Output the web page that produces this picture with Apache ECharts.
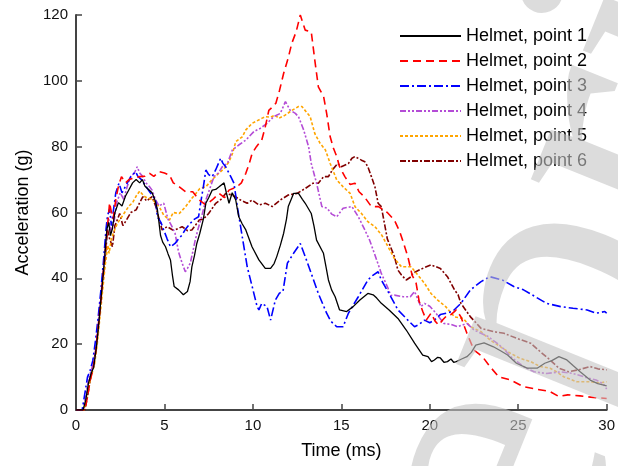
<!DOCTYPE html>
<html>
<head>
<meta charset="utf-8">
<script src="https://cdn.jsdelivr.net/npm/echarts@6/dist/echarts.min.js"></script>
<style>
  html, body { margin: 0; padding: 0; background: #fff; }
  #chart { width: 618px; height: 466px; }
</style>
</head>
<body>
<div id="chart"></div>
<script>
// Acceleration traces measured at six helmet points, [time (ms), acceleration (g)]
const seriesNames = ['Helmet, point 1', 'Helmet, point 2', 'Helmet, point 3',
                     'Helmet, point 4', 'Helmet, point 5', 'Helmet, point 6'];

const point1 = [[0,0],[0.4,0],[0.55,3],[0.7,8],[0.85,11],[1.0,13],[1.15,19],[1.3,27],[1.45,36],[1.6,45],[1.75,55],[1.85,57],[1.95,53],[2.05,55],[2.2,60],[2.4,63],[2.6,62],[2.8,65],[3.0,67],[3.2,69],[3.4,70],[3.6,69],[3.75,70],[3.9,68],[4.1,67],[4.3,66],[4.45,64],[4.6,61],[4.78,53],[4.9,51],[5.06,49.6],[5.2,47.5],[5.34,45.6],[5.45,41],[5.55,37.5],[5.8,36.5],[6.07,35],[6.3,36],[6.45,39],[6.55,43.5],[6.7,47],[6.83,50.6],[7.0,53.7],[7.2,58],[7.34,62.8],[7.5,64.5],[7.7,66.8],[7.9,67],[8.09,67.8],[8.37,69],[8.5,66],[8.65,62.8],[8.83,66],[9.03,63.8],[9.2,58.7],[9.4,56.5],[9.6,54.7],[9.95,49.6],[10.34,45.6],[10.7,43],[11.0,43],[11.2,44.5],[11.35,46.6],[11.55,50],[11.74,53.7],[11.9,58],[12.0,61.8],[12.3,65.8],[12.58,65.8],[12.8,64],[12.96,62.8],[13.3,59.7],[13.45,56],[13.6,51.6],[13.99,47.6],[14.15,43],[14.27,39.5],[14.45,36.5],[14.65,34.4],[14.9,30.4],[15.3,29.9],[15.67,31.4],[16.05,33.4],[16.5,35.4],[16.8,35],[17.0,34],[17.26,32.4],[17.7,30.4],[18.2,27.8],[18.67,24.3],[19.14,20.3],[19.6,16.7],[19.9,16.2],[20.1,14.7],[20.26,15.2],[20.45,16],[20.6,15.8],[20.8,14.5],[21.0,14.7],[21.2,15.5],[21.35,14.5],[21.5,14.7],[21.8,15.5],[22.1,16.2],[22.35,17.5],[22.6,19.7],[23.07,20.4],[23.6,19.2],[24.0,18],[24.4,16.7],[24.9,14.2],[25.5,12.7],[26.07,12.7],[26.5,14.2],[26.9,15],[27.3,16.2],[27.75,15.2],[28.1,13.5],[28.5,11.6],[29.07,9.1],[29.5,8],[30,7.3]];

const point2 = [[0,0],[0.5,0],[0.65,4],[0.8,9],[0.95,12],[1.1,17],[1.25,25],[1.4,33],[1.55,42],[1.7,51],[1.8,57],[1.9,63],[2.0,60],[2.1,58],[2.25,64],[2.4,68],[2.57,70.9],[2.8,69],[3.0,70],[3.3,70.5],[3.6,70.9],[3.9,71],[4.16,71.9],[4.4,71],[4.7,72.4],[5.0,72],[5.28,71.4],[5.5,69],[5.84,67.8],[6.2,66.3],[6.6,66.3],[6.97,63.8],[7.34,62.3],[7.7,63.8],[8.09,65.8],[8.4,64.5],[8.65,66.8],[9.1,67.8],[9.35,69],[9.6,71.9],[9.8,75],[9.96,78],[10.2,80],[10.5,82],[10.7,86],[10.9,91],[11.1,92],[11.3,93.2],[11.5,97],[11.74,102.3],[12.0,107],[12.2,111.4],[12.45,115],[12.68,120],[12.96,115.4],[13.3,114.9],[13.5,106.3],[13.7,98.2],[14.0,95.2],[14.17,90.1],[14.37,83],[14.55,79.6],[14.74,77],[14.9,73.9],[15.2,70.9],[15.5,68.5],[15.77,68.9],[16.0,66.3],[16.3,64.8],[16.7,61.8],[17.1,61.8],[17.6,60],[18.0,57.7],[18.3,54.2],[18.5,51],[18.76,46.6],[19.0,41],[19.23,38.5],[19.4,33],[19.6,30],[19.8,27.3],[20.07,29.4],[20.3,27],[20.5,25.8],[20.75,27.5],[21.0,28.9],[21.2,29],[21.5,30.4],[21.76,28.3],[22.1,23.3],[22.5,18.2],[22.98,16.2],[23.4,13.2],[23.9,10.1],[24.57,9.1],[25.3,7.1],[26.07,6.3],[26.8,5.6],[27.3,4.1],[27.8,4.6],[28.5,4.3],[29.25,3.8],[30,3.5]];

const point3 = [[0,0],[0.35,0],[0.5,5],[0.65,10],[0.8,12],[0.95,15],[1.1,21],[1.25,28],[1.4,36],[1.55,45],[1.7,55],[1.78,59],[1.9,61],[2.0,56],[2.1,60],[2.25,66],[2.43,68.9],[2.6,66],[2.8,68],[3.1,70.9],[3.37,72.4],[3.5,71],[3.7,70],[3.97,67.8],[4.2,66],[4.5,63.8],[4.6,58.7],[4.8,57],[4.96,54.7],[5.15,52],[5.34,49.6],[5.6,50.6],[5.8,52],[6.0,53.2],[6.2,55],[6.46,56.7],[6.7,58],[6.93,58.7],[7.05,63],[7.2,67.8],[7.34,72.9],[7.5,71.5],[7.7,70.9],[7.9,73],[8.18,76.5],[8.3,75],[8.46,73.9],[8.75,70.9],[8.93,68.9],[9.12,61.8],[9.4,52.6],[9.68,43.5],[9.96,37.5],[10.24,31.4],[10.34,30.4],[10.5,32.4],[10.8,31.4],[11.0,27.3],[11.27,33.4],[11.5,35.5],[11.7,36],[11.95,44.6],[12.3,47.6],[12.68,50.6],[12.96,46.6],[13.3,41.5],[13.7,35.4],[14.17,29.4],[14.4,27],[14.74,25.3],[15.1,25.3],[15.4,29.4],[15.96,34.4],[16.5,39.5],[16.8,41],[17.08,42],[17.26,39.5],[17.7,35.4],[18.2,30.4],[18.76,27.3],[19.14,25.3],[19.4,26],[19.7,27.3],[20.0,26.5],[20.26,27.3],[20.6,29],[21.0,29.5],[21.3,30],[21.76,32.4],[22.3,36.5],[22.9,39],[23.4,40.5],[24.1,39.5],[24.75,37.5],[25.3,36.5],[25.97,34.4],[26.6,32.4],[27.4,31.4],[28.1,30.9],[28.9,30.4],[29.4,29.4],[29.9,29.9],[30,29.4]];

const point4 = [[0,0],[0.4,0],[0.55,4],[0.7,9],[0.85,12],[1.0,14],[1.15,20],[1.3,28],[1.45,37],[1.6,46],[1.75,55],[1.85,58],[2.0,54],[2.15,57],[2.3,63],[2.5,66],[2.7,64],[2.9,68],[3.1,71],[3.3,72],[3.46,73.9],[3.6,72],[3.78,70.9],[3.95,69],[4.16,67.8],[4.3,66.8],[4.5,63.8],[4.7,62],[4.96,62.8],[5.2,58],[5.4,56],[5.6,53.7],[5.8,48],[6.0,44.6],[6.18,42],[6.3,43],[6.46,44.6],[6.6,48],[6.74,51.6],[6.9,55],[7.1,58.7],[7.34,63.8],[7.55,67],[7.8,70.9],[8.05,72],[8.27,73.9],[8.56,74.9],[8.84,79],[9.2,80.5],[9.6,82],[10.06,84.6],[10.43,85.6],[10.8,87.1],[11.18,89.1],[11.55,90.1],[11.84,93.7],[12.1,91.1],[12.4,90.1],[12.58,89.1],[12.87,85.1],[13.15,80],[13.3,74.9],[13.6,68.9],[13.9,61.8],[14.2,61.3],[14.46,59.5],[14.74,58.7],[15.1,61.3],[15.6,61.8],[15.96,58.7],[16.33,54.7],[16.6,51.6],[16.9,47.1],[17.26,41.5],[17.6,37.5],[17.8,34.8],[18.0,34.9],[18.5,34.4],[18.9,34.4],[19.14,36],[19.5,31.4],[19.7,32.4],[20.0,31.5],[20.35,29.4],[20.8,26.3],[21.2,26],[21.57,25.3],[22.1,26.3],[22.5,24.3],[23.3,22.3],[23.8,20.3],[24.2,18.5],[24.57,16.2],[25.3,13.2],[25.9,11.6],[26.6,11.1],[27.4,11.6],[28.1,11.1],[28.7,10.1],[29.4,9.1],[29.8,8],[30,6.4]];

const point5 = [[0,0],[0.45,0],[0.6,4],[0.75,8],[0.9,11],[1.05,14],[1.2,20],[1.35,28],[1.5,36],[1.65,44],[1.8,50],[1.87,47.6],[2.0,52],[2.2,55],[2.34,56.7],[2.5,58],[2.75,60],[3.0,62],[3.2,63],[3.4,65],[3.6,66.5],[3.84,65],[4.0,64.5],[4.3,64],[4.5,63],[4.7,61.8],[4.96,59.2],[5.28,57.7],[5.5,60],[5.84,59.7],[6.2,61.8],[6.55,64.3],[6.78,65.8],[7.0,67.3],[7.34,67.8],[7.7,70],[8.09,72],[8.4,73.5],[8.65,75.4],[8.85,78],[9.03,81.5],[9.4,83],[9.6,85.1],[9.96,87.1],[10.15,87.6],[10.5,88.6],[10.7,89.1],[11.0,89],[11.27,89.6],[11.46,88.6],[11.8,89.5],[12.2,91],[12.58,92.2],[12.77,92.2],[12.87,91.7],[13.24,89.1],[13.5,84],[13.8,81],[14.1,79],[14.37,74.9],[14.74,69.9],[15.1,67.8],[15.5,65.8],[15.77,61.8],[16.14,59.7],[16.5,57.2],[16.9,55.7],[17.3,53],[17.6,50],[18.0,46],[18.4,43.5],[18.95,43.5],[19.3,41.2],[19.7,38.5],[20.07,35.4],[20.45,33.4],[20.9,31.4],[21.4,28.3],[21.9,27.8],[22.3,25.3],[22.9,23.8],[23.4,21.3],[24.0,19.2],[24.57,17.2],[25.1,15.7],[25.7,14.7],[26.25,13.2],[26.8,12.7],[27.2,11.5],[27.57,10.1],[28.3,8.6],[29.07,8.6],[29.6,8.2],[30,8.6]];

const point6 = [[0,0],[0.5,0],[0.65,4],[0.8,9],[0.94,13],[1.12,18],[1.25,24],[1.4,33],[1.55,41],[1.69,48.6],[1.78,55],[1.9,52],[2.06,49.6],[2.2,56],[2.35,58],[2.47,59.7],[2.65,56],[2.85,57.7],[3.1,60],[3.4,60.8],[3.6,63],[3.78,64.8],[4.0,63.5],[4.3,64.8],[4.5,62],[4.7,58],[4.87,54.7],[5.15,55.7],[5.47,54.7],[5.6,54.7],[6.0,55.7],[6.3,54.5],[6.55,54.7],[6.97,57.7],[7.2,58],[7.5,59.7],[7.9,62.8],[8.2,64],[8.46,65.8],[8.84,65.3],[9.1,64.5],[9.3,63.8],[9.68,62.8],[9.96,63.8],[10.34,62.3],[10.7,62.8],[11.1,61.8],[11.55,63.8],[12.0,65.3],[12.5,65.8],[12.96,67.3],[13.4,68.9],[13.7,68.9],[14.0,70.9],[14.27,70.9],[14.5,73],[14.8,74.9],[15.0,73.9],[15.4,74.9],[15.6,76.5],[15.77,77],[16.14,75.9],[16.33,75.4],[16.5,73.9],[16.7,70.9],[16.9,67.8],[17.08,62.8],[17.26,61.8],[17.6,52],[18.0,46.6],[18.2,42.5],[18.4,41],[18.67,39.5],[18.95,40.5],[19.04,41.5],[19.5,42.8],[20.07,44.1],[20.6,43],[21.0,40.5],[21.4,36.5],[21.6,35],[21.76,32.4],[22.3,28.3],[22.9,24.8],[23.6,23.8],[24.2,23.3],[24.9,21.8],[25.7,20.3],[26.25,17.7],[26.8,15.2],[27.3,12.7],[27.85,11.6],[28.4,12.2],[29.07,13.2],[29.5,12.5],[30,12.2]];

const xTicks = [0, 5, 10, 15, 20, 25, 30];
const yTicks = [0, 20, 40, 60, 80, 100, 120];

const seriesData = [point1, point2, point3, point4, point5, point6];
const colors = ['#000000', '#ff0000', '#0000ff', '#b44cd6', '#ffa500', '#800000'];
const dashes = ['solid', [8, 5], [9, 3, 2, 3], [6, 2, 2, 2, 2, 2], [3, 2], [6, 2, 2, 2]];
const widths = [1.3, 1.6, 1.6, 1.6, 1.6, 1.6];

const axisColor = '#444444';
const font = '"Liberation Sans", Arial, sans-serif';

const chart = echarts.init(document.getElementById('chart'), null, { renderer: 'canvas' });

chart.setOption({
  animation: false,
  backgroundColor: '#ffffff',
  grid: { left: 76, right: 7, top: 15, bottom: 56, containLabel: false },
  legend: {
    data: seriesNames,
    orient: 'vertical',
    left: 399,
    top: 27,
    itemWidth: 61,
    itemHeight: 18,
    itemGap: 7,
    padding: 0,
    itemStyle: { opacity: 0 },
    textStyle: { fontFamily: font, fontSize: 18, color: '#000', lineHeight: 18 }
  },
  xAxis: {
    type: 'value',
    min: xTicks[0],
    max: xTicks[xTicks.length - 1],
    interval: 5,
    name: 'Time (ms)',
    nameLocation: 'middle',
    nameGap: 32,
    nameTextStyle: { fontFamily: font, fontSize: 18, color: '#000' },
    axisLine: { onZero: false, lineStyle: { color: axisColor, width: 2 } },
    axisTick: { show: true, inside: true, length: 6, lineStyle: { color: axisColor, width: 1.5 } },
    axisLabel: { fontFamily: font, fontSize: 15, color: '#111', margin: 8 },
    splitLine: { show: false }
  },
  yAxis: {
    type: 'value',
    min: yTicks[0],
    max: yTicks[yTicks.length - 1],
    interval: 20,
    name: 'Acceleration (g)',
    nameLocation: 'middle',
    nameGap: 41,
    nameRotate: 90,
    nameTextStyle: { fontFamily: font, fontSize: 18, color: '#000' },
    axisLine: { show: true, lineStyle: { color: axisColor, width: 2 } },
    axisTick: { show: true, inside: true, length: 6, lineStyle: { color: axisColor, width: 1.5 } },
    axisLabel: { fontFamily: font, fontSize: 15, color: '#111', margin: 8 },
    splitLine: { show: false }
  },
  series: seriesNames.map((name, i) => ({
    name: name,
    type: 'line',
    data: seriesData[i],
    symbol: 'none',
    smooth: false,
    color: colors[i],
    lineStyle: { color: colors[i], width: widths[i], type: dashes[i] },
    z: 10 - i
  })),
  graphic: [{
    type: 'text',
    x: 326,
    y: 896,
    rotation: 68 * Math.PI / 180,
    z: 200,
    silent: true,
    style: {
      text: 'Preprints',
      font: '400px "Liberation Serif", serif',
      fill: '#c4c4c4',
      opacity: 0.6,
      textAlign: 'left',
      textVerticalAlign: 'middle'
    }
  }]
});
</script>
</body>
</html>
